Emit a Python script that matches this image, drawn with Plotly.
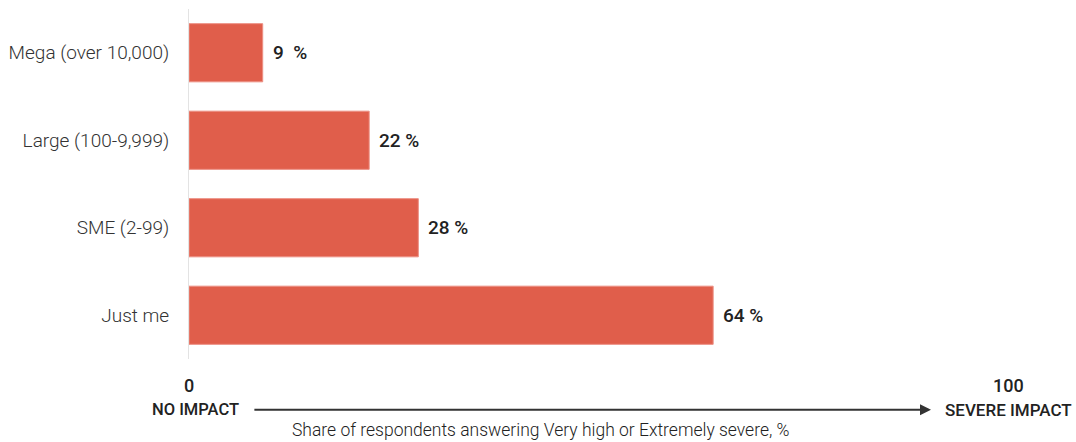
import plotly.graph_objects as go

categories = ["Mega (over 10,000)", "Large (100-9,999)", "SME (2-99)", "Just me"]
values = [9, 22, 28, 64]
value_labels = ["9  %", "22 %", "28 %", "64 %"]
axis_min_label = "0"
axis_max_label = "100"
axis_min_text = "NO IMPACT"
axis_max_text = "SEVERE IMPACT"
caption = "Share of respondents answering Very high or Extremely severe, %"

FONT = "Roboto"
BAR = "#E05E4B"
TXT = "#222222"

fig = go.Figure()
fig.add_trace(go.Bar(
    x=values, y=categories, orientation="h",
    marker=dict(color=BAR, line=dict(color="#EC8F83", width=1)),
    width=0.665, hoverinfo="skip",
))

annotations = []
for c, v, t in zip(categories, values, value_labels):
    annotations.append(dict(x=v, y=c, xref="x", yref="y", text=t,
                            showarrow=False, xanchor="left", xshift=8,
                            font=dict(family=FONT, size=19, color=TXT, weight=500)))

ybot = -0.075
ybot2 = -0.145
annotations += [
    dict(x=0, y=ybot, xref="x", yref="paper", text=axis_min_label, showarrow=False,
         xanchor="center", yanchor="middle", font=dict(family=FONT, size=18, color=TXT, weight=500)),
    dict(x=100, y=ybot, xref="x", yref="paper", text=axis_max_label, showarrow=False,
         xanchor="center", yanchor="middle", font=dict(family=FONT, size=18, color=TXT, weight=500)),
    dict(x=0.8, y=ybot2, xref="x", yref="paper", text=axis_min_text, showarrow=False,
         xanchor="center", yanchor="middle", font=dict(family=FONT, size=16.5, color=TXT, weight=500)),
    dict(x=100, y=ybot2, xref="x", yref="paper", text=axis_max_text, showarrow=False,
         xanchor="center", yanchor="middle", font=dict(family=FONT, size=17, color=TXT, weight=500)),
    dict(x=90.6, y=ybot2, ax=7.8, ay=0, xref="x", yref="paper", axref="x", ayref="pixel",
         text="", showarrow=True, arrowhead=2, arrowsize=1.1, arrowwidth=2, arrowcolor="#333333"),
    dict(x=43.0, y=-0.203, xref="x", yref="paper", text=caption, showarrow=False,
         xanchor="center", yanchor="middle", font=dict(family=FONT, size=17.5, color=TXT, weight=300)),
]

fig.update_layout(
    width=1076, height=442,
    margin=dict(l=189, r=68, t=9, b=83),
    plot_bgcolor="white", paper_bgcolor="white",
    showlegend=False,
    annotations=annotations,
    xaxis=dict(range=[0, 100], showgrid=False, zeroline=False, showticklabels=False,
               showline=False, fixedrange=True),
    yaxis=dict(categoryorder="array", categoryarray=categories, autorange="reversed",
               showgrid=False, zeroline=False, showline=True, linecolor="#E3E3E3", linewidth=1,
               ticks="", ticklabelstandoff=15,
               tickfont=dict(family=FONT, size=19, color="#333333", weight=300), fixedrange=True),
    font=dict(family=FONT),
)

fig.write_html("out.html", config={"displayModeBar": False},
               post_script="document.body.style.margin='0';")
